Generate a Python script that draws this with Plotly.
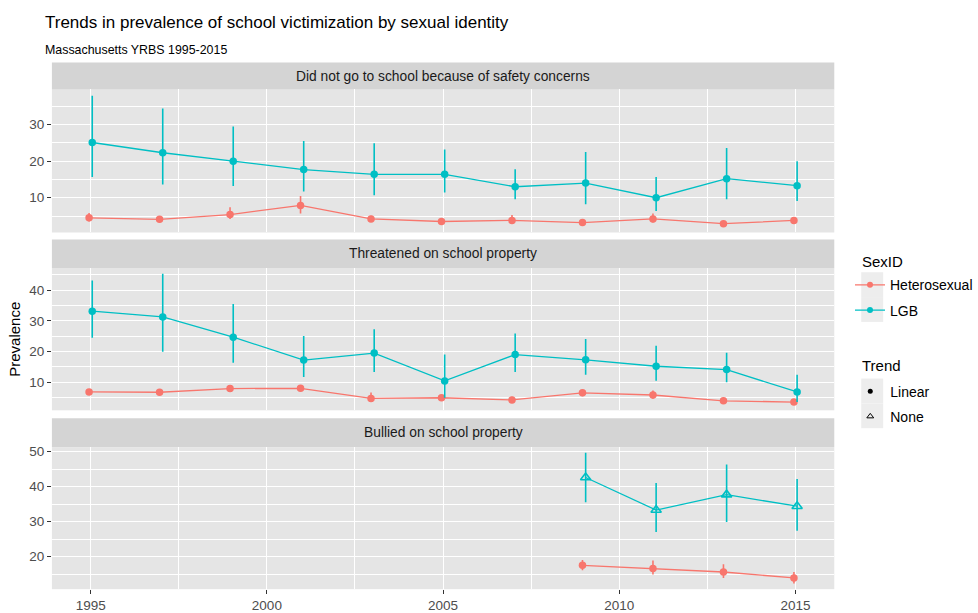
import plotly.graph_objects as go

FONT = "Liberation Sans"
HET_COLOR = "#F8766D"
LGB_COLOR = "#00BFC4"
PANEL_BG = "#E5E5E5"
STRIP_BG = "#D4D4D4"
KEY_BG = "#EDEDED"

# ---- data -------------------------------------------------------------
years = [1995, 1997, 1999, 2001, 2003, 2005, 2007, 2009, 2011, 2013, 2015]
bully_years = [2009, 2011, 2013, 2015]

panel_titles = [
    "Did not go to school because of safety concerns",
    "Threatened on school property",
    "Bullied on school property",
]

# Did not go to school because of safety concerns
safety_lgb = [25.1, 22.3, 20.0, 17.7, 16.4, 16.4, 13.0, 14.0, 10.0, 15.2, 13.3]
safety_lgb_lo = [15.7, 13.6, 13.2, 11.7, 10.7, 11.4, 9.6, 8.2, 6.4, 9.6, 9.1]
safety_lgb_hi = [37.9, 34.4, 29.5, 25.5, 24.9, 23.2, 17.8, 22.5, 15.7, 23.6, 20.0]
safety_het = [4.5, 4.1, 5.4, 7.9, 4.2, 3.5, 3.8, 3.2, 4.2, 2.9, 3.8]
safety_het_lo = [3.5, 3.2, 4.2, 5.7, 3.4, 2.8, 3.0, 2.5, 3.2, 2.3, 3.0]
safety_het_hi = [5.8, 5.0, 7.4, 10.5, 5.1, 4.3, 5.3, 4.0, 5.7, 3.6, 4.7]

# Threatened on school property
threat_lgb = [33.2, 31.3, 24.7, 17.2, 19.5, 10.4, 19.0, 17.3, 15.2, 14.1, 6.8]
threat_lgb_lo = [24.5, 19.9, 16.3, 11.7, 13.3, 4.9, 13.3, 12.4, 10.5, 10.0, 3.5]
threat_lgb_hi = [43.2, 45.4, 35.5, 25.1, 27.3, 19.0, 25.9, 24.1, 21.9, 19.6, 12.4]
threat_het = [6.8, 6.7, 7.9, 8.0, 4.7, 4.9, 4.2, 6.5, 5.8, 3.9, 3.5]
threat_het_lo = [5.8, 5.7, 6.9, 7.0, 3.6, 3.9, 3.3, 5.4, 4.6, 3.1, 2.9]
threat_het_hi = [7.8, 7.7, 8.9, 9.0, 6.6, 5.9, 5.2, 7.6, 7.3, 4.8, 4.2]

# Bullied on school property
bully_lgb = [42.6, 33.3, 37.7, 34.4]
bully_lgb_lo = [35.5, 27.0, 29.9, 27.4]
bully_lgb_hi = [49.7, 41.0, 46.3, 42.2]
bully_het = [17.5, 16.6, 15.6, 13.9]
bully_het_lo = [16.1, 14.9, 13.9, 12.3]
bully_het_hi = [19.0, 18.9, 17.8, 15.6]

# trend classification per panel: (heterosexual, LGB)
trends = [("Linear", "Linear"), ("Linear", "Linear"), ("Linear", "None")]

series = [
    (years, (safety_het, safety_het_lo, safety_het_hi), (safety_lgb, safety_lgb_lo, safety_lgb_hi)),
    (years, (threat_het, threat_het_lo, threat_het_hi), (threat_lgb, threat_lgb_lo, threat_lgb_hi)),
    (bully_years, (bully_het, bully_het_lo, bully_het_hi), (bully_lgb, bully_lgb_lo, bully_lgb_hi)),
]

# ---- layout geometry (pixels) ------------------------------------------
W, H = 978, 613
PLOT_L, PLOT_R = 52, 836
# (strip top, panel top, panel bottom) for each facet
rows = [(60, 87, 231), (238, 267, 410), (418, 447, 590)]
y_ranges = [[0.5, 39.6], [0.8, 47.2], [10.7, 51.3]]
x_range = [1993.9, 2016.1]
DODGE = 0.045


def fx(p):
    return p / W


def fy(p):
    return 1 - p / H


symbol_for = {"Linear": "circle", "None": "triangle-up-open"}

fig = go.Figure()

for i, (xs, het, lgb) in enumerate(series):
    ax = "" if i == 0 else str(i + 1)
    for (vals, lo, hi), color, shift, trend in (
        (het, HET_COLOR, -DODGE, trends[i][0]),
        (lgb, LGB_COLOR, DODGE, trends[i][1]),
    ):
        sym = symbol_for[trend]
        fig.add_trace(go.Scatter(
            x=[x + shift for x in xs], y=vals,
            mode="lines+markers",
            line=dict(color=color, width=1.3),
            marker=dict(color=color, size=7.5 if sym == "circle" else 9,
                        symbol=sym, line=dict(color=color, width=1.6 if sym != "circle" else 0)),
            error_y=dict(type="data", symmetric=False,
                         array=[h - v for h, v in zip(hi, vals)],
                         arrayminus=[v - l for v, l in zip(vals, lo)],
                         color=color, thickness=1.6, width=0),
            xaxis="x" + ax, yaxis="y" + ax,
            showlegend=False, hoverinfo="skip",
        ))

# legend entries
fig.add_trace(go.Scatter(x=[None], y=[None], mode="lines+markers", name="Heterosexual",
                         line=dict(color=HET_COLOR, width=1.3), marker=dict(color=HET_COLOR, size=6),
                         legend="legend", legendgroup="het"))
fig.add_trace(go.Scatter(x=[None], y=[None], mode="lines+markers", name="LGB",
                         line=dict(color=LGB_COLOR, width=1.3), marker=dict(color=LGB_COLOR, size=6),
                         legend="legend", legendgroup="lgb"))
fig.add_trace(go.Scatter(x=[None], y=[None], mode="markers", name="Linear",
                         marker=dict(color="black", size=5, symbol="circle"),
                         legend="legend2", legendgroup="linear"))
fig.add_trace(go.Scatter(x=[None], y=[None], mode="markers", name="None",
                         marker=dict(color="black", size=6, symbol="triangle-up-open",
                                     line=dict(color="black", width=1)),
                         legend="legend2", legendgroup="none"))

shapes = []
annotations = []
layout = {}
for i, (strip_top, top, bottom) in enumerate(rows):
    ax = "" if i == 0 else str(i + 1)
    last = i == len(rows) - 1
    layout["xaxis" + ax] = dict(
        domain=[fx(PLOT_L), fx(PLOT_R)], anchor="y" + ax, range=x_range,
        tickmode="linear", tick0=1995, dtick=5,
        showticklabels=last, ticks="outside" if last else "",
        ticklen=4, tickcolor="#333333", tickwidth=1,
        tickfont=dict(family=FONT, size=13.5, color="#4D4D4D"),
        showgrid=True, gridcolor="white", gridwidth=1.4,
        minor=dict(tickmode="linear", tick0=1992.5, dtick=5, showgrid=True,
                   gridcolor="white", gridwidth=0.7),
        zeroline=False, showline=False,
    )
    layout["yaxis" + ax] = dict(
        domain=[fy(bottom), fy(top)], anchor="x" + ax, range=y_ranges[i],
        tickmode="linear", tick0=0, dtick=10,
        ticks="outside", ticklen=4, tickcolor="#333333", tickwidth=1,
        tickfont=dict(family=FONT, size=13.5, color="#4D4D4D"),
        showgrid=True, gridcolor="white", gridwidth=1.4,
        minor=dict(tickmode="linear", tick0=5, dtick=10, showgrid=True,
                   gridcolor="white", gridwidth=0.7),
        zeroline=False, showline=False,
    )
    shapes.append(dict(type="rect", xref="paper", yref="paper",
                       x0=fx(PLOT_L), x1=fx(PLOT_R), y0=fy(top), y1=fy(strip_top),
                       fillcolor=STRIP_BG, line=dict(width=0), layer="below"))
    annotations.append(dict(text=panel_titles[i], xref="paper", yref="paper",
                            x=fx((PLOT_L + PLOT_R) / 2), y=fy((strip_top + top) / 2),
                            xanchor="center", yanchor="middle", showarrow=False,
                            font=dict(family=FONT, size=13.8, color="#1A1A1A")))

# grey backgrounds behind legend keys
for k_top in (271, 296, 378, 403):
    shapes.append(dict(type="rect", xref="paper", yref="paper",
                       x0=fx(863), x1=fx(885), y0=fy(k_top + 25), y1=fy(k_top),
                       fillcolor=KEY_BG, line=dict(width=0), layer="below"))

annotations += [
    dict(text="Trends in prevalence of school victimization by sexual identity",
         xref="paper", yref="paper", x=fx(43), y=fy(20), xanchor="left", yanchor="middle",
         showarrow=False, font=dict(family=FONT, size=17, color="black")),
    dict(text="Massachusetts YRBS 1995-2015",
         xref="paper", yref="paper", x=fx(43), y=fy(47), xanchor="left", yanchor="middle",
         showarrow=False, font=dict(family=FONT, size=12.4, color="black")),
    dict(text="Prevalence", xref="paper", yref="paper", x=fx(15), y=fy(338),
         xanchor="center", yanchor="middle", textangle=-90, showarrow=False,
         font=dict(family=FONT, size=15, color="black")),
    # legend titles
    dict(text="SexID", xref="paper", yref="paper", x=fx(862), y=fy(260),
         xanchor="left", yanchor="middle", showarrow=False,
         font=dict(family=FONT, size=15, color="black")),
    dict(text="Trend", xref="paper", yref="paper", x=fx(862), y=fy(365),
         xanchor="left", yanchor="middle", showarrow=False,
         font=dict(family=FONT, size=15, color="black")),
]

legend_common = dict(
    xref="paper", yref="paper", xanchor="left", yanchor="top",
    bgcolor="rgba(0,0,0,0)", borderwidth=0,
    font=dict(family=FONT, size=14, color="black"),
    traceorder="grouped", tracegroupgap=4,
    itemclick=False, itemdoubleclick=False,
)

fig.update_layout(
    width=W, height=H, margin=dict(l=0, r=0, t=0, b=0),
    paper_bgcolor="white", plot_bgcolor=PANEL_BG,
    font=dict(family=FONT),
    shapes=shapes, annotations=annotations,
    legend=dict(x=fx(852), y=fy(268), **legend_common),
    legend2=dict(x=fx(852), y=fy(375), **legend_common),
    **layout,
)

fig.write_html("out.html")
